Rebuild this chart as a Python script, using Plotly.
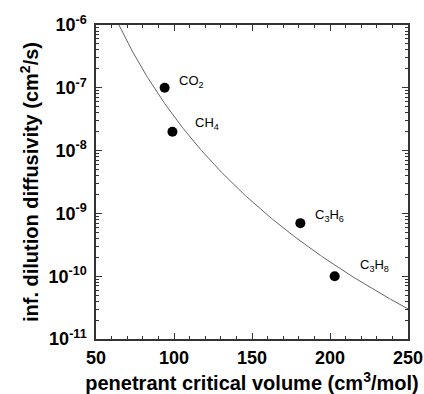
import numpy as np
import plotly.graph_objects as go

# Penetrant critical volumes (cm^3/mol) and infinite-dilution diffusivities (cm^2/s)
gases = ["CO<sub>2</sub>", "CH<sub>4</sub>", "C<sub>3</sub>H<sub>6</sub>", "C<sub>3</sub>H<sub>8</sub>"]
crit_volume = [94, 99, 181, 203]
diffusivity = [1e-7, 2e-8, 7e-10, 1e-10]

# Power-law correlation D = D_ref * (V / V_ref)^(-n)
v_ref = 64.7
d_ref = 1e-6
exponent = 7.7

x_ticks = [50, 100, 150, 200, 250]
y_ticks = [1e-11, 1e-10, 1e-9, 1e-8, 1e-7, 1e-6]
y_tick_text = ["10<sup>-11</sup>", "10<sup>-10</sup>", "10<sup>-9</sup>",
               "10<sup>-8</sup>", "10<sup>-7</sup>", "10<sup>-6</sup>"]

FONT = "Liberation Sans, Arial, sans-serif"

v_line = np.linspace(55, 250, 300)
d_line = d_ref * (v_line / v_ref) ** (-exponent)

fig = go.Figure()
fig.add_trace(go.Scatter(x=v_line, y=d_line, mode="lines",
                         line=dict(color="#666666", width=1), hoverinfo="skip"))
fig.add_trace(go.Scatter(x=crit_volume, y=diffusivity, mode="markers",
                         marker=dict(color="black", size=10)))

# label offsets from each marker, in pixels
label_shift = [(12, 6), (21, 8), (13, 8), (23, 11)]
label_font = dict(family=FONT, size=13, color="black")
for name, v, d, (dx, dy) in zip(gases, crit_volume, diffusivity, label_shift):
    fig.add_annotation(x=v, y=np.log10(d), text=name, showarrow=False,
                       xanchor="left", yanchor="middle", xshift=dx, yshift=dy,
                       font=label_font)

tick_font = dict(family=FONT, size=18, color="black", weight="bold")
title_font = dict(family=FONT, size=20, color="black")
fig.update_layout(
    width=424, height=394,
    margin=dict(l=96, r=16, t=25, b=55),
    plot_bgcolor="white", paper_bgcolor="white",
    showlegend=False,
    font=dict(family=FONT, color="black"),
)
fig.update_xaxes(
    range=[50, 250], tickvals=x_ticks, ticks="inside", ticklen=6, tickwidth=1,
    tickcolor="#333333", showline=True, linecolor="#333333", linewidth=1.5,
    mirror="ticks", showgrid=False, zeroline=False, automargin=False,
    tickfont=tick_font, ticklabelstandoff=2,
    minor=dict(dtick=10, ticks="inside", ticklen=3, tickcolor="#333333", showgrid=False),
    title=dict(text="<b>penetrant critical volume (cm<sup>3</sup>/mol)</b>",
               font=title_font, standoff=10),
)
fig.update_yaxes(
    type="log", range=[-11, -6], tickvals=y_ticks, ticktext=y_tick_text,
    ticks="inside", ticklen=6, tickwidth=1, tickcolor="#333333",
    showline=True, linecolor="#333333", linewidth=1.5, mirror="ticks",
    showgrid=False, zeroline=False, automargin=False,
    tickfont=tick_font, ticklabelstandoff=4,
    minor=dict(dtick="D1", ticks="inside", ticklen=3, tickcolor="#333333", showgrid=False),
    title=dict(text="<b>inf. dilution diffusivity (cm<sup>2</sup>/s)</b>",
               font=title_font, standoff=4),
)

fig.write_html("out.html")
